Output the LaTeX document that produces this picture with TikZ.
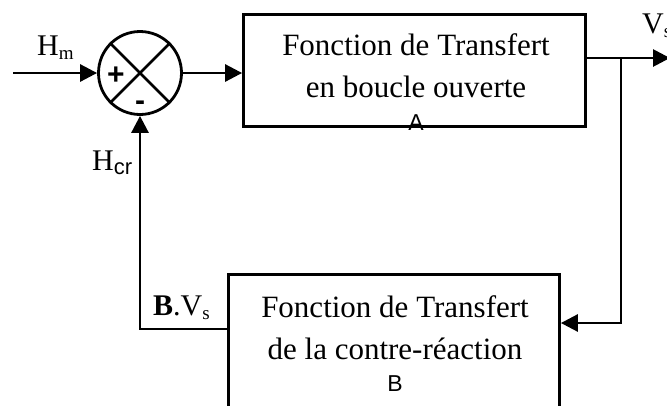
\documentclass[tikz,border=0pt]{standalone}
\usepackage{fontspec}
\setmainfont{Liberation Serif}
\setsansfont{Liberation Sans}
\usetikzlibrary{arrows.meta}
\newcommand{\lowsub}[2]{\raisebox{-0.3ex}{\fontsize{#1}{#1}\selectfont #2}}

\begin{document}
\begin{tikzpicture}[x=1pt,y=-1pt]
\tikzset{
  block/.style={draw,line width=2.8pt,inner sep=0pt},
  summer/.style={circle,draw,line width=2.8pt,minimum size=83pt,inner sep=0pt},
  signal/.style={-{Triangle[length=17pt,width=17pt]},line width=2.8pt},
  wire/.style={line width=2.8pt},
  boxtext/.style={align=center,inner sep=0pt,font=\fontsize{31}{42}\selectfont},
  sign/.style={inner sep=0pt,font=\sffamily\bfseries\fontsize{30}{30}\selectfont},
  siglabel/.style={inner sep=0pt,anchor=base west,font=\fontsize{30}{30}\selectfont}
}
\clip (0,0) rectangle (667,405);
\node[summer] (n_sum) at (140,73) {};
\draw[wire] (n_sum.north west) -- (n_sum.south east);
\draw[wire] (n_sum.north east) -- (n_sum.south west);
\node[sign] (n_plus) at (116,76) {+};
\node[sign] (n_minus) at (140,106) {-};
\node[block,minimum width=342pt,minimum height=112pt] (n_boxA) at (414.5,70.5) {};
\node[block,minimum width=331pt,minimum height=156pt] (n_boxB) at (394,352.5) {};
\node[boxtext,anchor=north] (n_txtA) at (416,33) {Fonction de Transfert\\en boucle ouverte\\[-9pt]{\sffamily\fontsize{23}{23}\selectfont A}};
\node[boxtext,anchor=north] (n_txtB) at (395,295) {Fonction de Transfert\\de la contre-réaction\\[-10pt]{\sffamily\fontsize{23}{23}\selectfont B}};
\node[siglabel] (n_Hm) at (37,55) {H\lowsub{19}{m}};
\node[siglabel] (n_Hcr) at (92,170) {H\lowsub{22}{\sffamily cr}};
\node[siglabel] (n_Vs) at (642,33) {V\lowsub{19}{s}};
\node[siglabel] (n_BVs) at (153,315) {\textbf{B}.V\lowsub{19}{s}};
\coordinate (c_in) at (13,73);
\coordinate (c_out) at (670,58);
\coordinate (c_branch) at (621,58);
\coordinate (c_fb) at (621,323);
\coordinate (c_ret) at (140,329);
\draw[signal] (c_in) -- (n_sum.west);
\draw[signal] (n_sum.east) -- (n_sum.east -| n_boxA.west);
\draw[signal] (c_out -| n_boxA.east) -- (c_out);
\draw[signal] (c_branch) -- (c_fb) -- (c_fb -| n_boxB.east);
\draw[signal] (c_ret -| n_boxB.west) -- (c_ret) -- (n_sum.south);
\end{tikzpicture}
\end{document}
